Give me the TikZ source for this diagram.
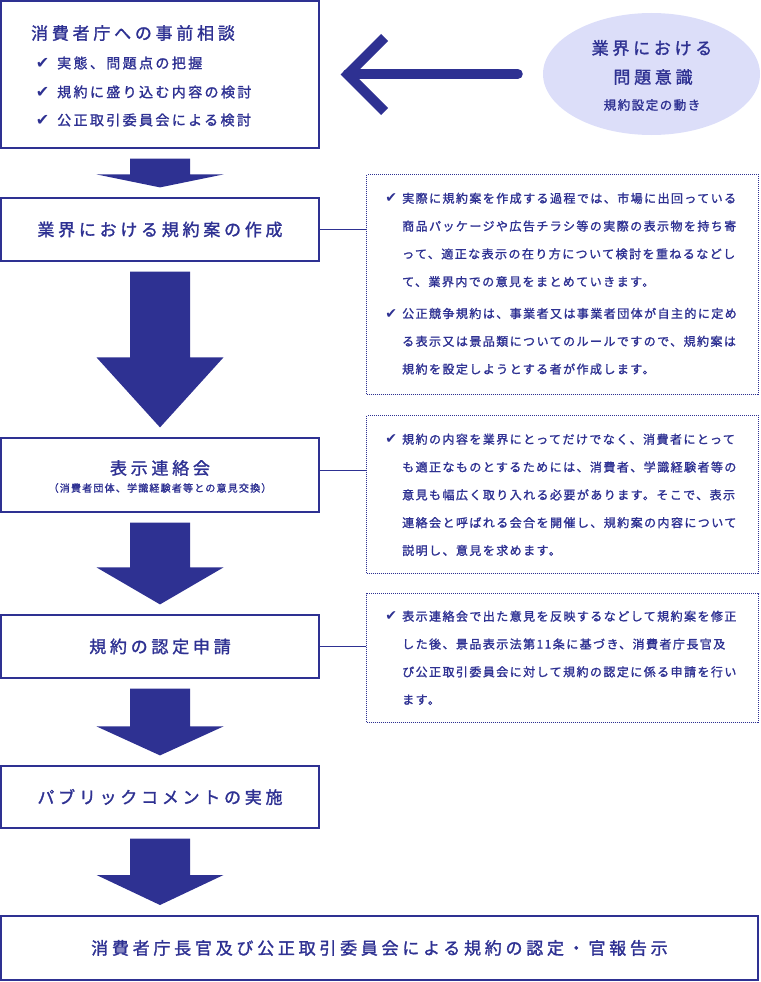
\documentclass[tikz,border=0pt]{standalone}
\usepackage{fontspec}
\setmainfont{Noto Sans CJK JP}
\newfontfamily\jpwide[LetterSpace=22,FakeBold=1.5]{Noto Sans CJK JP}
\newfontfamily\jpmid[LetterSpace=17,FakeBold=1.5]{Noto Sans CJK JP}
\newfontfamily\jpnote[LetterSpace=12,FakeBold=1.5]{Noto Sans CJK JP}
\newfontfamily\symfont{DejaVu Sans}
\usetikzlibrary{calc,shapes.geometric}
\definecolor{cNavy}{HTML}{2E3192}
\definecolor{cMist}{HTML}{DCDEF9}
% check mark hung left of a line: size, gap
\newcommand{\chk}[2]{\llap{{\symfont\fontsize{#1}{#1}\selectfont ✔}\hspace{#2}}}
% block arrow between two step boxes: from, to, head length
\newcommand{\flowdown}[3]{%
  \coordinate (fs) at ($(#1.south)+(0,10)$);
  \coordinate (fp) at (#1.south |- #2.north);
  \coordinate (fe) at ($(fp)+(0,-10)$);
  \fill[cNavy] ($(fs)+(-30,0)$) -- ($(fs)+(30,0)$) -- ($(fe)+(30,-#3)$)
    -- ($(fe)+(63.5,-#3)$) -- (fe) -- ($(fe)+(-63.5,-#3)$)
    -- ($(fe)+(-30,-#3)$) -- cycle;}
\tikzset{
  stepbox/.style={draw=cNavy, line width=1.2pt, inner sep=0pt, minimum width=318pt,
    text=cNavy, font=\jpwide\fontsize{17}{20}\selectfont},
  steptitle/.style={text=cNavy, inner sep=0pt, font=\jpwide\fontsize{17}{20}\selectfont},
  stepsub/.style={text=cNavy, inner sep=0pt, font=\jpnote\fontsize{10}{12}\selectfont},
  stepitem/.style={text=cNavy, inner sep=0pt, anchor=west, font=\jpmid\fontsize{14}{16}\selectfont},
  notebox/.style={draw=cNavy, line width=1.1pt, dash pattern=on 1pt off 1pt, inner sep=0pt,
    minimum width=392pt, anchor=north west},
  notetext/.style={text=cNavy, inner sep=0pt, anchor=north west, align=left,
    font=\jpnote\fontsize{12}{27.8}\selectfont},
  ovalsub/.style={text=cNavy, inner sep=0pt, font=\jpnote\fontsize{12.5}{14}\selectfont},
  linkline/.style={draw=cNavy, line width=1pt},
  bigarrow/.style={draw=cNavy, line width=10pt},
}
\begin{document}
\begin{tikzpicture}[x=1pt, y=-1pt]
  \useasboundingbox (0,0) rectangle (760,982);
  % --- step boxes ---
  \node[stepbox, minimum height=147pt] (b1) at (160,74.5) {};
  \node[steptitle, anchor=west] (b1t) at (31,33) {消費者庁への事前相談};
  \node[stepitem] (b1a) at (57,63) {\chk{16}{8pt}実態、問題点の把握};
  \node[stepitem] (b1b) at (57,92) {\chk{16}{8pt}規約に盛り込む内容の検討};
  \node[stepitem] (b1c) at (57,120) {\chk{16}{8pt}公正取引委員会による検討};
  \node[stepbox, minimum height=63pt] (b2) at (160,229.5) {業界における規約案の作成};
  \node[stepbox, minimum height=74pt] (b3) at (160,475) {};
  \node[steptitle] (b3t) at (160,468) {表示連絡会};
  \node[stepsub] (b3s) at (160,488) {（消費者団体、学識経験者等との意見交換）};
  \node[stepbox, minimum height=63pt] (b4) at (160,646.5) {規約の認定申請};
  \node[stepbox, minimum height=62pt] (b5) at (160,797) {パブリックコメントの実施};
  \node[stepbox, minimum height=64pt, minimum width=757pt, line width=2pt] (b6) at (379.5,948)
    {消費者庁長官及び公正取引委員会による規約の認定・官報告示};
  % --- block arrows ---
  \flowdown{b1}{b2}{13}
  \flowdown{b2}{b3}{70}
  \flowdown{b3}{b4}{37}
  \flowdown{b4}{b5}{29}
  \flowdown{b5}{b6}{30}
  % --- industry awareness ---
  \node[ellipse, fill=cMist, minimum width=217pt, minimum height=122pt, inner sep=0pt] (ie) at (651.5,74) {};
  \node[steptitle] (ie1) at (652,48) {業界における};
  \node[steptitle] (ie2) at (653,77) {問題意識};
  \node[ovalsub] (ie3) at (652,105) {規約設定の動き};
  \coordinate (tipA) at ([xshift=28pt]b1.east);
  \draw[bigarrow, line cap=round] ([xshift=-25pt]ie.west) -- (tipA |- ie.west);
  \draw[bigarrow, line join=miter] ($(tipA)+(37,-37)$) -- (tipA) -- ($(tipA)+(37,37)$);
  % --- notes ---
  \node[notebox, minimum height=220pt] (nA) at (366,174) {};
  \node[notetext] (nAt) at (402,192.5) {%
    \chk{14}{5pt}実際に規約案を作成する過程では、市場に出回っている\\
    商品パッケージや広告チラシ等の実際の表示物を持ち寄\\
    って、適正な表示の在り方について検討を重ねるなどし\\
    て、業界内での意見をまとめていきます。\\[4pt]
    \chk{14}{5pt}公正競争規約は、事業者又は事業者団体が自主的に定め\\
    る表示又は景品類についてのルールですので、規約案は\\
    規約を設定しようとする者が作成します。};
  \node[notebox, minimum height=158pt] (nB) at (366,415) {};
  \node[notetext] (nBt) at (402,433.5) {%
    \chk{14}{5pt}規約の内容を業界にとってだけでなく、消費者にとって\\
    も適正なものとするためには、消費者、学識経験者等の\\
    意見も幅広く取り入れる必要があります。そこで、表示\\
    連絡会と呼ばれる会合を開催し、規約案の内容について\\
    説明し、意見を求めます。};
  \node[notebox, minimum height=129pt] (nC) at (366,593) {};
  \node[notetext] (nCt) at (402,610.5) {%
    \chk{14}{5pt}表示連絡会で出た意見を反映するなどして規約案を修正\\
    した後、景品表示法第11条に基づき、消費者庁長官及\\
    び公正取引委員会に対して規約の認定に係る申請を行い\\
    ます。};
  % --- links ---
  \coordinate (l3) at ([yshift=5pt]b3.east);
  \draw[linkline] (b2.east) -- (b2.east -| nA.west);
  \draw[linkline] (l3) -- (l3 -| nB.west);
  \draw[linkline] (b4.east) -- (b4.east -| nC.west);
\end{tikzpicture}
\end{document}
